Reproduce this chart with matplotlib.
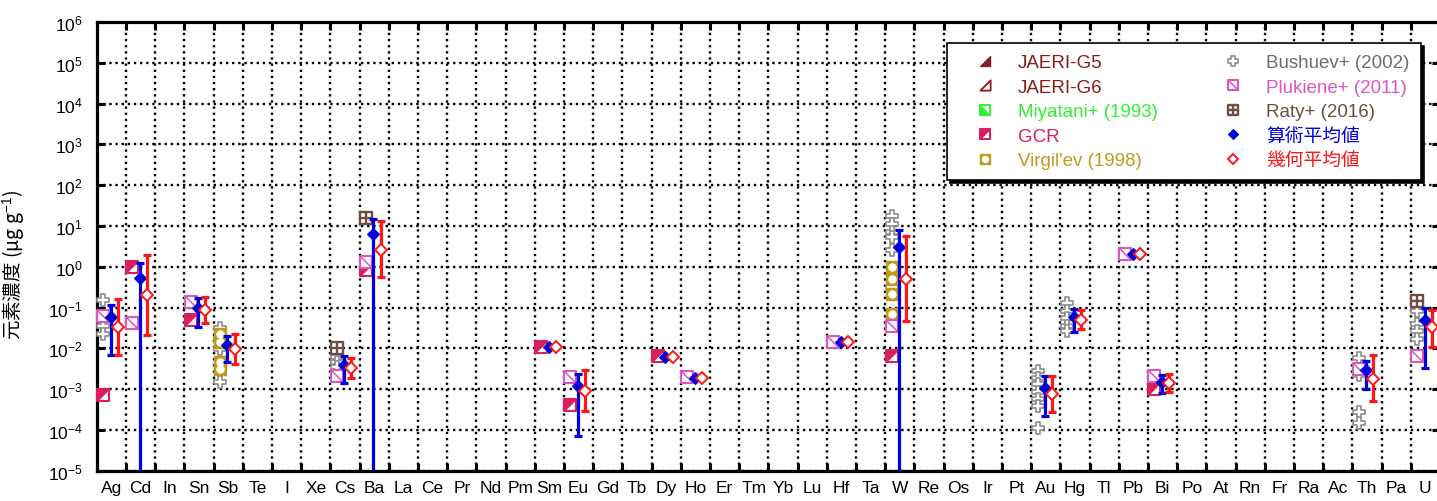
import numpy as np
import matplotlib
matplotlib.use("Agg")
import matplotlib.pyplot as plt
from matplotlib.path import Path
from matplotlib.lines import Line2D
from matplotlib.legend_handler import HandlerTuple
from matplotlib.ticker import FixedLocator, FuncFormatter, NullLocator

# ---------------------------------------------------------------- data
elements = ['Ag', 'Cd', 'In', 'Sn', 'Sb', 'Te', 'I', 'Xe', 'Cs', 'Ba', 'La', 'Ce',
            'Pr', 'Nd', 'Pm', 'Sm', 'Eu', 'Gd', 'Tb', 'Dy', 'Ho', 'Er', 'Tm', 'Yb',
            'Lu', 'Hf', 'Ta', 'W', 'Re', 'Os', 'Ir', 'Pt', 'Au', 'Hg', 'Tl', 'Pb',
            'Bi', 'Po', 'At', 'Rn', 'Fr', 'Ra', 'Ac', 'Th', 'Pa', 'U']
decades = list(range(-5, 7))

gcr_el = ['Ag', 'Cd', 'Sn', 'Ba', 'Sm', 'Eu', 'Dy', 'W', 'Bi']
gcr_val = [7.2e-4, 1.0, 0.050, 0.83, 0.011, 4.1e-4, 0.0063, 0.0066, 9.8e-4]

virgilev_el = ['Sb', 'Sb', 'Sb', 'Sb', 'W', 'W', 'W', 'W']
virgilev_val = [0.022, 0.014, 0.0045, 0.0031, 0.97, 0.50, 0.21, 0.069]

bushuev_el = (['Ag'] * 3 + ['Sb'] * 4 + ['Cs'] * 3 + ['W'] * 6 + ['Au'] * 7
              + ['Hg'] * 5 + ['Th'] * 4 + ['U'] * 4)
bushuev_val = [0.15, 0.036, 0.022,
               0.031, 0.017, 0.0096, 0.0015,
               0.0060, 0.0045, 0.0035,
               17.8, 11.0, 6.9, 5.2, 2.5, 0.31,
               0.0028, 0.0019, 0.0013, 8.3e-4, 5.7e-4, 3.9e-4, 1.1e-4,
               0.13, 0.083, 0.055, 0.036, 0.027,
               0.0057, 0.0022, 2.8e-4, 1.5e-4,
               0.083, 0.039, 0.027, 0.017]

plukiene_el = ['Ag', 'Cd', 'Sn', 'Cs', 'Ba', 'Eu', 'Ho', 'Hf', 'W', 'Pb', 'Bi', 'Th', 'U']
plukiene_val = [0.061, 0.041, 0.14, 0.0021, 1.28, 0.0020, 0.0020, 0.014, 0.036, 2.1,
                0.0021, 0.0031, 0.0063]

raty_el = ['Cs', 'Ba', 'U']
raty_val = [0.010, 16.0, 0.147]

mean_el = ['Ag', 'Cd', 'Sn', 'Sb', 'Cs', 'Ba', 'Sm', 'Eu', 'Dy', 'Ho', 'Hf', 'W',
           'Au', 'Hg', 'Pb', 'Bi', 'Th', 'U']
# arithmetic mean; range 0 = bar runs below the axis, nan = single value
arith_val = [0.060, 0.52, 0.097, 0.0123, 0.0040, 6.3, 0.0105, 0.0012, 0.0062, 0.0019,
             0.014, 3.1, 0.00107, 0.057, 2.1, 0.00147, 0.0030, 0.049]
arith_lo = [0.0069, 0, 0.033, 0.0046, 0.0014, 0, np.nan, 6.9e-5, np.nan, np.nan,
            np.nan, 0, 2.2e-4, 0.025, np.nan, 8.0e-4, 0.0010, 0.0032]
arith_hi = [0.115, 1.23, 0.168, 0.020, 0.0066, 14.8, np.nan, 0.0023, np.nan, np.nan,
            np.nan, 7.9, 0.0021, 0.092, np.nan, 0.0022, 0.0050, 0.096]
# geometric mean
geo_val = [0.033, 0.20, 0.087, 0.0096, 0.0033, 2.6, 0.0105, 9.1e-4, 0.0062, 0.0019,
           0.014, 0.50, 7.6e-4, 0.050, 2.1, 0.0014, 0.0018, 0.033]
geo_lo = [0.0069, 0.021, 0.041, 0.0041, 0.0019, 0.55, np.nan, 2.9e-4, np.nan, np.nan,
          np.nan, 0.046, 2.8e-4, 0.030, np.nan, 8.7e-4, 5.2e-4, 0.0105]
geo_hi = [0.16, 1.9, 0.18, 0.022, 0.0058, 12.9, np.nan, 0.0029, np.nan, np.nan,
          np.nan, 5.6, 0.0021, 0.087, np.nan, 0.0024, 0.0069, 0.089]

# ---------------------------------------------------------------- style
plt.rcParams['font.family'] = ['Liberation Sans', 'Noto Sans CJK JP']
plt.rcParams['mathtext.fontset'] = 'custom'
plt.rcParams['mathtext.rm'] = 'Liberation Sans'
plt.rcParams['mathtext.it'] = 'Liberation Sans:italic'
plt.rcParams['axes.unicode_minus'] = True

C_JAERI = '#8B1A1A'
C_MIYA = '#33EE33'
C_GCR = '#DA1F5C'
C_VIRG = '#C29A1A'
C_BUSH = '#8C8C8C'
C_BUSH_T = '#6E6E6E'
C_PLUK = '#DD55C0'
C_RATY = '#6E4E44'
C_ARITH = '#0000DD'
C_GEO = '#FF1515'

SQ = Path([(-1, -1), (1, -1), (1, 1), (-1, 1), (-1, -1)], closed=True)
TRI_UL = Path([(-1, 1), (1, 1), (-1, -1), (-1, 1)], closed=True)
TRI_LL = Path([(-1, -1), (1, -1), (-1, 1), (-1, -1)], closed=True)
TRI_LR = Path([(1, -1), (1, 1), (-1, -1), (1, -1)], closed=True)
DIAG = Path([(-1, 1), (1, -1)], [Path.MOVETO, Path.LINETO])
w = 0.36
PLUS = Path([(-w, -1), (w, -1), (w, -w), (1, -w), (1, w), (w, w), (w, 1), (-w, 1),
             (-w, w), (-1, w), (-1, -w), (-w, -w), (-w, -1)], closed=True)

MS = 8.4


def layers(kind, ms=MS):
    """Marker layers (kwargs for Line2D) that build up each symbol."""
    if kind == 'jaeri5':
        return [dict(marker=TRI_LR, ms=ms, mfc=C_JAERI, mec=C_JAERI, mew=0.8)]
    if kind == 'jaeri6':
        return [dict(marker=TRI_LR, ms=ms, mfc='white', mec=C_JAERI, mew=1.3)]
    if kind == 'miya':
        return [dict(marker=SQ, ms=ms, mfc='white', mec=C_MIYA, mew=1.5),
                dict(marker=TRI_LL, ms=ms, mfc=C_MIYA, mec=C_MIYA, mew=0.6)]
    if kind == 'gcr':
        return [dict(marker=SQ, ms=ms, mfc='white', mec=C_GCR, mew=1.5),
                dict(marker=TRI_UL, ms=ms, mfc=C_GCR, mec=C_GCR, mew=0.6)]
    if kind == 'virg':
        return [dict(marker=SQ, ms=ms, mfc=C_VIRG, mec=C_VIRG, mew=1.0),
                dict(marker='o', ms=ms * 0.72, mfc='white', mec='white', mew=0)]
    if kind == 'bush':
        return [dict(marker=PLUS, ms=ms * 1.05, mfc='white', mec=C_BUSH, mew=1.2)]
    if kind == 'pluk':
        return [dict(marker=SQ, ms=ms, mfc='white', mec=C_PLUK, mew=1.5),
                dict(marker=DIAG, ms=ms, mfc='none', mec=C_PLUK, mew=1.1)]
    if kind == 'raty':
        return [dict(marker=SQ, ms=ms, mfc='white', mec=C_RATY, mew=1.7),
                dict(marker='+', ms=ms, mfc='none', mec=C_RATY, mew=1.7)]
    if kind == 'arith':
        return [dict(marker='D', ms=ms * 0.74, mfc=C_ARITH, mec=C_ARITH, mew=0.8)]
    if kind == 'geo':
        return [dict(marker='D', ms=ms * 0.69, mfc='white', mec=C_GEO, mew=1.4)]
    raise ValueError(kind)


fig = plt.figure(figsize=(14.37, 5.02), dpi=100)
ax = fig.add_axes([96.8 / 1437, 30.3 / 502, 1343.2 / 1437, 448.8 / 502])
ax.set_yscale('log')
ax.set_xlim(-0.5, len(elements) - 0.5)
ax.set_ylim(10.0 ** decades[0], 10.0 ** decades[-1])

idx = {e: i for i, e in enumerate(elements)}
DX_DATA, DX_ARITH, DX_GEO = -0.28, -0.03, 0.22


def stamp(el, vals, kind, dx, z):
    xs = [idx[e] + dx for e in el]
    for kw in layers(kind):
        ax.plot(xs, vals, linestyle='none', zorder=z, clip_on=False, **kw)


stamp(bushuev_el, bushuev_val, 'bush', DX_DATA, 3)
stamp(virgilev_el, virgilev_val, 'virg', DX_DATA, 3.1)
stamp(gcr_el, gcr_val, 'gcr', DX_DATA, 3.2)
stamp(plukiene_el, plukiene_val, 'pluk', DX_DATA, 3.3)
stamp(raty_el, raty_val, 'raty', DX_DATA, 3.4)


def bars(vals, lo, hi, color, dx, z):
    for e, v, l, h in zip(mean_el, vals, lo, hi):
        if np.isnan(h):
            continue
        x = idx[e] + dx
        bottom = l if l > 0 else 1e-12
        ax.vlines(x, bottom, h, color=color, lw=2.3, zorder=z)
        ax.plot([x], [h], marker='_', ms=6.2, mew=2.3, color=color, zorder=z)
        if l > 0:
            ax.plot([x], [l], marker='_', ms=6.2, mew=2.3, color=color, zorder=z)


bars(arith_val, arith_lo, arith_hi, C_ARITH, DX_ARITH, 4)
stamp(mean_el, arith_val, 'arith', DX_ARITH, 4.5)
bars(geo_val, geo_lo, geo_hi, C_GEO, DX_GEO, 5)
stamp(mean_el, geo_val, 'geo', DX_GEO, 5.5)

# ---------------------------------------------------------------- axes
for s in ax.spines.values():
    s.set_linewidth(2.3)
    s.set_color('black')

ax.xaxis.set_major_locator(FixedLocator(np.arange(0.5, len(elements) - 1, 1.0)))
ax.xaxis.set_minor_locator(FixedLocator(np.arange(len(elements))))
ax.xaxis.set_major_formatter(FuncFormatter(lambda v, p: ''))
ax.xaxis.set_minor_formatter(FuncFormatter(lambda v, p: elements[int(round(v))]))
ax.tick_params(axis='x', which='major', direction='in', length=6, width=2.2,
               top=True, bottom=True)
ax.tick_params(axis='x', which='minor', length=0, pad=7, labelsize=12.5)
for t in ax.xaxis.get_minorticklabels():
    t.set_fontfamily(['Liberation Sans Narrow', 'Liberation Sans'])

ax.yaxis.set_major_locator(FixedLocator([10.0 ** d for d in decades]))
ax.yaxis.set_minor_locator(NullLocator())
ax.yaxis.set_major_formatter(FuncFormatter(lambda v, p: r'$10^{%d}$' % int(round(np.log10(v)))))
ax.tick_params(axis='y', which='major', direction='in', length=6, width=2.2,
               left=True, right=True, pad=10, labelsize=12.5)

ax.grid(True, which='major', color='black', linestyle=(0, (1, 1.6)), linewidth=1.7)
ax.set_axisbelow(True)

ax.set_ylabel('元素濃度 (μg g$^{-1}$)', fontsize=14, family='Noto Sans CJK JP')
ax.yaxis.set_label_coords(-0.053, 0.46)

# ---------------------------------------------------------------- legend
entries = [('JAERI-G5', 'jaeri5', C_JAERI), ('JAERI-G6', 'jaeri6', C_JAERI),
           ('Miyatani+ (1993)', 'miya', C_MIYA), ('GCR', 'gcr', C_GCR),
           ("Virgil'ev (1998)", 'virg', C_VIRG), ('Bushuev+ (2002)', 'bush', C_BUSH_T),
           ('Plukiene+ (2011)', 'pluk', C_PLUK), ('Raty+ (2016)', 'raty', C_RATY),
           ('算術平均値', 'arith', C_ARITH), ('幾何平均値', 'geo', C_GEO)]
handles, labels = [], []
for lab, kind, _ in entries:
    hs = tuple(Line2D([], [], linestyle='none', **kw) for kw in layers(kind, ms=7.4))
    handles.append(hs)
    labels.append(lab)

leg = ax.legend(handles, labels, ncol=2, loc='upper left',
                bbox_to_anchor=(947 / 1437, 1 - 44 / 502), bbox_transform=fig.transFigure,
                borderaxespad=0, handler_map={tuple: HandlerTuple(ndivide=1)},
                numpoints=1, prop={'family': ['Liberation Sans', 'Noto Sans CJK JP'], 'size': 13.5},
                handlelength=2.85, handletextpad=0.33, columnspacing=2.6, borderpad=0.6,
                labelspacing=0.39, fancybox=False, framealpha=1, edgecolor='black',
                shadow={'color': 'black', 'alpha': 1.0})
leg.get_frame().set_linewidth(1.2)
leg.set_zorder(10)
for txt, (_, _, col) in zip(leg.get_texts(), entries):
    txt.set_color(col)

fig.savefig('out.png', dpi=100)
